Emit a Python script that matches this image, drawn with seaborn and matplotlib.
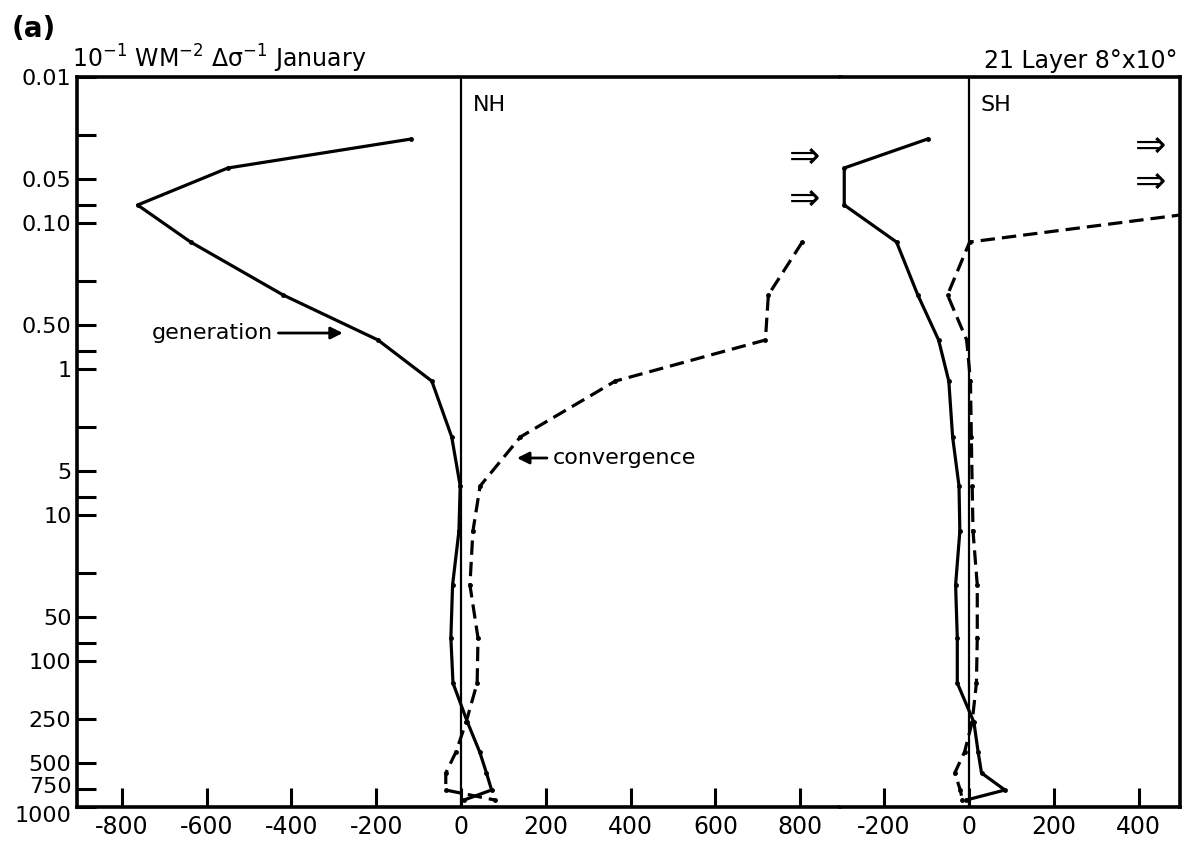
import numpy as np
import pandas as pd
import matplotlib
matplotlib.use('Agg')
import matplotlib.pyplot as plt
import matplotlib.transforms as mtransforms
import seaborn as sns

# sigma levels (plotted on the pressure-like log axis)
levels = [0.0266, 0.042, 0.0753, 0.135, 0.311, 0.633, 1.21, 2.92, 6.33, 12.9,
          30.2, 69.5, 141.6, 262, 420, 585, 765, 896]

nh_generation = [-118, -550, -763, -638, -420, -196, -69, -22, -2, -5,
                 -20, -24, -19, 15, 44, 60, 72, 7]
nh_convergence = [np.nan, np.nan, np.nan, 805, 725, 718, 364, 140, 45, 28,
                  21, 40, 38, 12, -12, -36, -36, 80]
sh_generation = [-97, -293, -293, -170, -120, -71, -47, -38, -23, -21,
                 -31, -27, -27, 12, 22, 30, 85, -6]
sh_convergence = [np.nan, np.nan, 680, 2, -50, -5, 4, 6, 8, 10,
                  20, 20, 18, 8, -10, -33, -20, -15]

ytick_vals = [0.01, 0.025, 0.05, 0.075, 0.1, 0.25, 0.5, 0.75, 1, 2.5, 5, 7.5,
              10, 25, 50, 75, 100, 250, 500, 750, 1000]
ytick_labels = ['0.01', '', '0.05', '', '0.10', '', '0.50', '', '1', '', '5', '',
                '10', '', '50', '', '100', '250', '500', '750', '1000']
nh_xticks = [-800, -600, -400, -200, 0, 200, 400, 600, 800]
sh_xticks = [-200, 0, 200, 400]

rows = []
for hemi, gen, conv in [('NH', nh_generation, nh_convergence),
                        ('SH', sh_generation, sh_convergence)]:
    for lev, g, c in zip(levels, gen, conv):
        rows.append((hemi, 'generation', lev, g))
        rows.append((hemi, 'convergence', lev, c))
df = pd.DataFrame(rows, columns=['hemi', 'term', 'level', 'value']).dropna()

sns.set_theme(style='ticks')
plt.rcParams['font.family'] = ['DejaVu Sans']
plt.rcParams['text.color'] = 'black'
plt.rcParams['xtick.color'] = 'black'
plt.rcParams['ytick.color'] = 'black'

fig = plt.figure(figsize=(11.85, 8.47), dpi=100)
ax1 = fig.add_axes([77 / 1185, 40 / 847, 763 / 1185, 730 / 847])
ax2 = fig.add_axes([840 / 1185, 40 / 847, 340 / 1185, 730 / 847], sharey=ax1)

styles = {'generation': '-', 'convergence': (0, (4.5, 2.2))}
for ax, hemi in [(ax1, 'NH'), (ax2, 'SH')]:
    for term in ['generation', 'convergence']:
        d = df[(df.hemi == hemi) & (df.term == term)]
        sns.lineplot(data=d, x='value', y='level', ax=ax, sort=False,
                     estimator=None, color='black', linewidth=2.3,
                     linestyle=styles[term], marker='o', markersize=3.5,
                     markeredgewidth=0)
    ax.axvline(0, color='black', linewidth=1.6)
    ax.set_xlabel('')
    ax.set_ylabel('')
    for sp in ax.spines.values():
        sp.set_linewidth(2.6)
        sp.set_color('black')
        sp.set_capstyle('projecting')

ax1.set_yscale('log')
ax1.set_ylim(1000, 0.01)
ax1.set_yticks(ytick_vals)
ax1.set_yticklabels(ytick_labels)
ax1.yaxis.set_minor_locator(matplotlib.ticker.NullLocator())
ax1.set_xlim(-906, 894)
ax2.set_xlim(-303, 497)
ax1.set_xticks(nh_xticks)
ax1.set_xticklabels([str(v) for v in nh_xticks])
ax2.set_xticks(sh_xticks)
ax2.set_xticklabels([str(v) for v in sh_xticks])

ax1.spines['right'].set_visible(False)
ax2.spines['left'].set_visible(False)
ax1.tick_params(axis='both', direction='in', length=14, width=2.2,
                labelsize=17, pad=4)
ax1.tick_params(axis='y', labelsize=16)
ax1.tick_params(axis='x', pad=6)
ax2.tick_params(axis='x', direction='in', length=14, width=2.2,
                labelsize=17, pad=6)
ax2.tick_params(axis='y', left=False, labelleft=False)

# crowded labels at the bottom: nudge 750 up and 1000 down like the original
ylabels = ax1.get_yticklabels()
ylabels[-2].set_transform(ylabels[-2].get_transform() +
                          mtransforms.ScaledTranslation(0, 3 / 72, fig.dpi_scale_trans))
ylabels[-1].set_transform(ylabels[-1].get_transform() +
                          mtransforms.ScaledTranslation(0, -5 / 72, fig.dpi_scale_trans))

# off-scale arrows
for y in [0.0359, 0.0695]:
    ax1.text(810, y, '\u21d2', fontsize=27, ha='center', va='center')
for y in [0.0302, 0.0532]:
    ax2.text(428, y, '\u21d2', fontsize=27, ha='center', va='center')

ax1.annotate('generation', xy=(-279, 0.567), xytext=(-445, 0.567),
             fontsize=16, ha='right', va='center',
             arrowprops=dict(arrowstyle='-|>', color='black', lw=2,
                             mutation_scale=18, shrinkA=2, shrinkB=0))
ax1.annotate('convergence', xy=(132, 4.07), xytext=(217, 4.07),
             fontsize=16, ha='left', va='center',
             arrowprops=dict(arrowstyle='-|>', color='black', lw=2,
                             mutation_scale=18, shrinkA=2, shrinkB=0))

fig.text(473 / 1185, 1 - 105 / 847, 'NH', fontsize=16, va='center')
fig.text(980 / 1185, 1 - 105 / 847, 'SH', fontsize=16, va='center')
fig.text(12 / 1185, 1 - 37 / 847, '(a)', fontsize=20, fontweight='bold',
         va='baseline')
fig.text(72 / 1185, 1 - 68 / 847,
         r'$\mathregular{10^{-1}}$ WM$\mathregular{^{-2}}$ '
         '\u0394\u03c3$\\mathregular{^{-1}}$ January',
         fontsize=17, va='baseline')
fig.text(1178 / 1185, 1 - 68 / 847, '21 Layer 8\u00b0x10\u00b0', fontsize=17,
         ha='right', va='baseline')

fig.savefig('out.png', dpi=100)
